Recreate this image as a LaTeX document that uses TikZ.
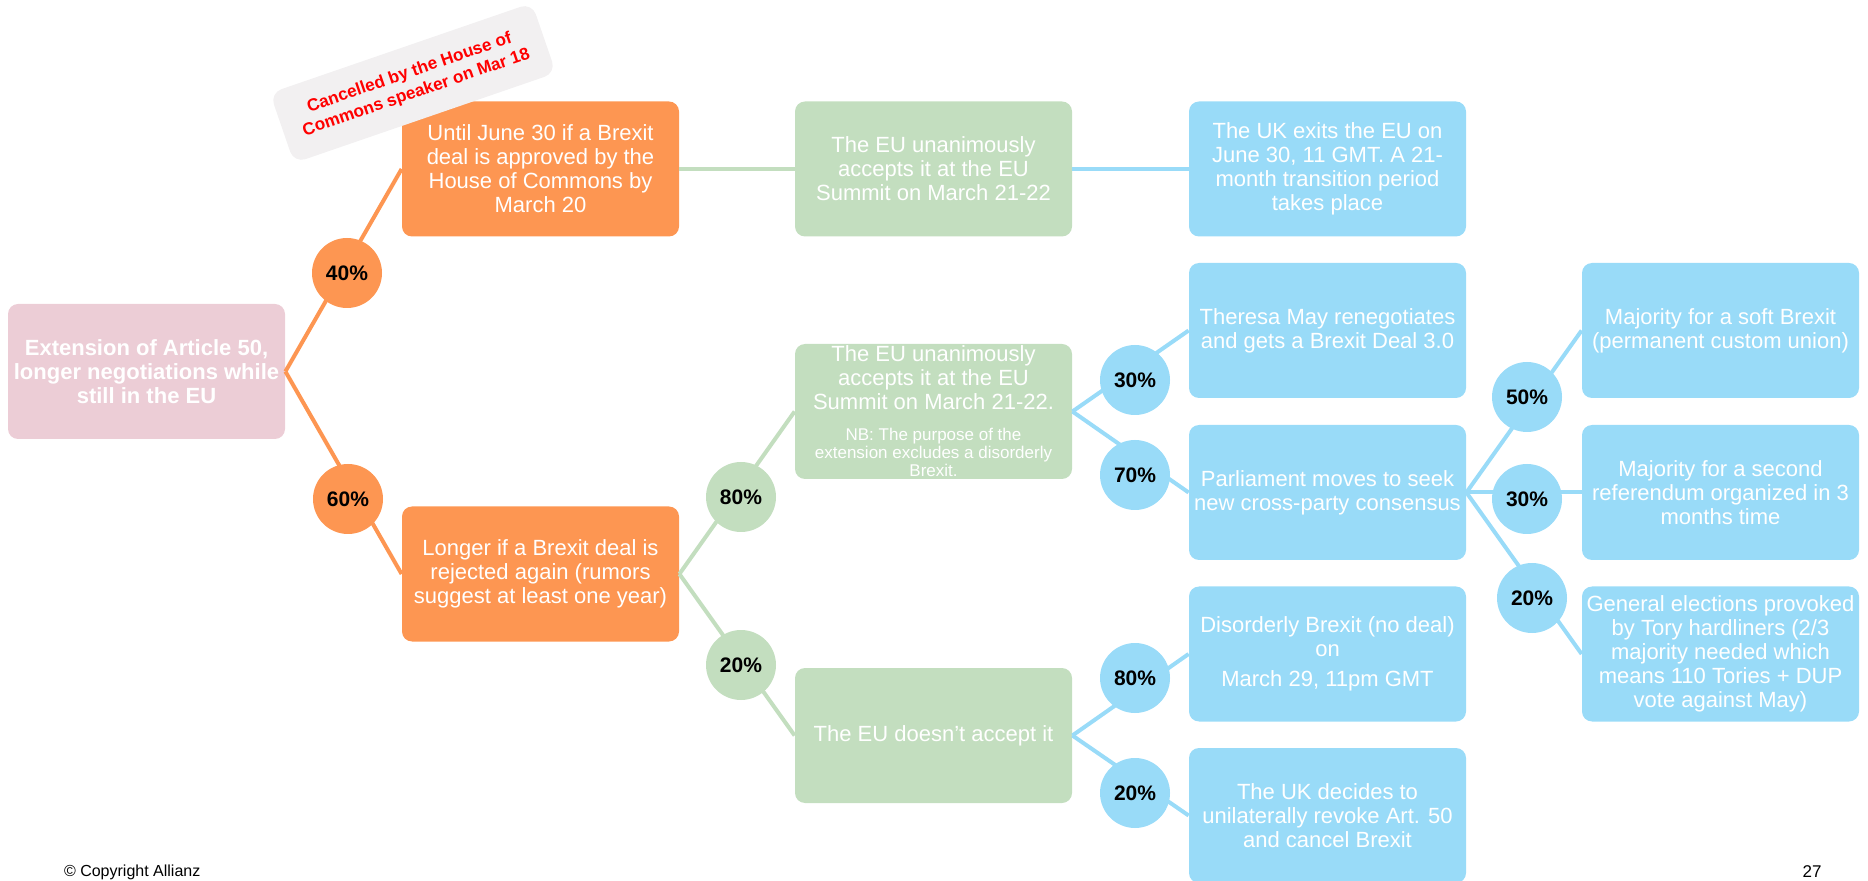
\documentclass[tikz,border=0pt]{standalone}
\usepackage{fontspec}
\setmainfont{Liberation Sans}
\usepackage{xcolor}
\usepackage{tikz}

\newcommand{\nbfont}{\fontsize{8.5}{9.5}\selectfont}

\begin{document}
\begin{tikzpicture}[x=0.5pt, y=-0.5pt,
  box/.style={rounded corners=5pt, minimum width=138.5pt, minimum height=67.5pt,
    inner sep=2pt, align=center, text=white, font=\fontsize{11}{12}\selectfont},
  pct/.style={circle, minimum size=35pt, inner sep=0pt, text=black,
    font=\bfseries\fontsize{10.5}{12}\selectfont},
  link/.style={line width=2pt}]
% Brexit scenario tree: one root, three levels of outcomes,
% the chance of each branch sits in a disc on its link.
\definecolor{rootpink}{RGB}{236,205,214}
\definecolor{brexorange}{RGB}{253,150,82}
\definecolor{eugreen}{RGB}{195,222,191}
\definecolor{ukblue}{RGB}{153,219,248}
\definecolor{notegray}{RGB}{242,240,241}
\useasboundingbox (0,0) rectangle (1868,881);

\node[box, fill=rootpink, font=\bfseries\fontsize{11}{12}\selectfont] (ext) at (146.5,371.5)
  {Extension of Article 50,\\longer negotiations while\\still in the EU};
\node[box, fill=brexorange] (june) at (540.5,169)
  {Until June 30 if a Brexit\\deal is approved by the\\House of Commons by\\March 20};
\node[box, fill=brexorange] (longer) at (540.5,574)
  {Longer if a Brexit deal is\\rejected again (rumors\\suggest at least one year)};
\node[box, fill=eugreen] (accept) at (933.5,169)
  {The EU unanimously\\accepts it at the EU\\Summit on March 21-22};
\node[box, fill=eugreen, inner ysep=0pt] (acceptnb) at (933.5,411.5)
  {The EU unanimously\\accepts it at the EU\\Summit on March 21-22.\\[3.5pt]
   \nbfont NB: The purpose of the\\[-3pt]\nbfont extension excludes a disorderly\\[-3pt]\nbfont Brexit.};
\node[box, fill=eugreen] (noaccept) at (933.5,735.5) {The EU doesn’t accept it};
\node[box, fill=ukblue] (exit) at (1327.5,169)
  {The UK exits the EU on\\June 30, 11 GMT. A 21-\\month transition period\\takes place};
\node[box, fill=ukblue] (may) at (1327.5,330.5)
  {Theresa May renegotiates\\and gets a Brexit Deal 3.0};
\node[box, fill=ukblue] (parl) at (1327.5,492.5)
  {Parliament moves to seek\\new cross-party consensus};
\node[box, fill=ukblue] (nodeal) at (1327.5,654)
  {Disorderly Brexit (no deal)\\on\\[3pt]March 29, 11pm GMT};
\node[box, fill=ukblue] (revoke) at (1327.5,815.5)
  {The UK decides to\\unilaterally revoke Art. 50\\and cancel Brexit};
\node[box, fill=ukblue] (soft) at (1720.5,330.5)
  {Majority for a soft Brexit\\(permanent custom union)};
\node[box, fill=ukblue] (second) at (1720.5,492.5)
  {Majority for a second\\referendum organized in 3\\months time};
\node[box, fill=ukblue] (vote) at (1720.5,654)
  {General elections provoked\\by Tory hardliners (2/3\\majority needed which\\means 110 Tories + DUP\\vote against May)};

% sticker over the June box
\node[rounded corners=6pt, fill=notegray, rotate=19, minimum width=138.5pt,
  minimum height=37pt, align=center, text=red,
  font=\bfseries\fontsize{8.6}{10.5}\selectfont] (note) at (413,83)
  {Cancelled by the House of\\Commons speaker on Mar 18};

\foreach \a/\b/\c in {ext/june/brexorange, ext/longer/brexorange,
    june/accept/eugreen, longer/acceptnb/eugreen, longer/noaccept/eugreen,
    accept/exit/ukblue, acceptnb/may/ukblue, acceptnb/parl/ukblue,
    noaccept/nodeal/ukblue, noaccept/revoke/ukblue,
    parl/soft/ukblue, parl/second/ukblue, parl/vote/ukblue} {
  \draw[link, \c] (\a.east) -- (\b.west);
}
\foreach \n/\x/\y/\p/\c in {p40/347/273/40/brexorange, p60/348/499/60/brexorange,
    p80g/741/497/80/eugreen, p20g/741/665/20/eugreen,
    p30b/1135/380/30/ukblue, p70b/1135/475/70/ukblue,
    p80b/1135/678/80/ukblue, p20b/1135/793/20/ukblue,
    p50r/1527/397/50/ukblue, p30r/1527/499/30/ukblue, p20r/1532/598/20/ukblue} {
  \node[pct, fill=\c] (\n) at (\x,\y) {\p\%};
}

\node[anchor=west, font=\fontsize{8}{9}\selectfont] (copy) at (57,872) {© Copyright Allianz};
\node[font=\fontsize{8.5}{9}\selectfont] (page) at (1812,872) {27};
\end{tikzpicture}
\end{document}
